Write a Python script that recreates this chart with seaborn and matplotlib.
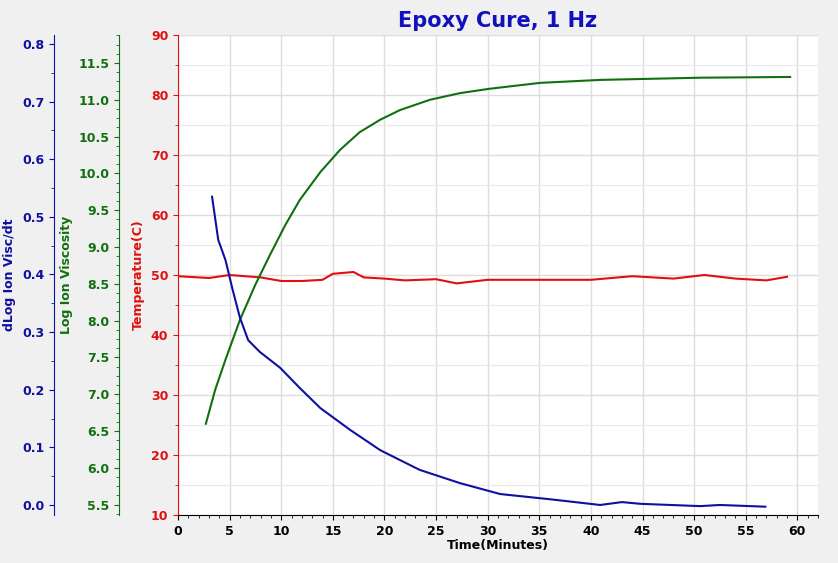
import matplotlib
matplotlib.use("Agg")
import matplotlib.pyplot as plt
import seaborn as sns
from matplotlib.ticker import MultipleLocator

green_t = [2.7,3.6,4.6,6.0,7.5,8.9,10.4,11.8,13.8,15.7,17.6,19.6,21.5,24.4,27.3,30.2,35.1,40.9,50.6,59.3]
green_v = [6.6,7.06,7.47,8.01,8.49,8.89,9.30,9.64,10.02,10.32,10.56,10.73,10.86,11.0,11.09,11.15,11.23,11.27,11.30,11.31]
blue_t = [3.3,3.9,4.6,5.3,6.0,6.8,7.9,9.9,11.8,13.8,16.7,19.6,23.4,27.3,31.2,36.0,40.9,43.0,44.8,50.6,52.5,56.9]
blue_v = [0.535,0.46,0.425,0.373,0.325,0.286,0.266,0.238,0.203,0.168,0.130,0.095,0.061,0.038,0.019,0.010,0.0,0.005,0.002,-0.002,0.0,-0.003]
red_t = [0,3,5,8,10,12,14,15,17,18,20,22,25,27,30,35,40,44,48,51,54,57,59]
red_v = [49.8,49.5,50,49.6,49,49,49.2,50.2,50.5,49.6,49.4,49.1,49.3,48.6,49.2,49.2,49.2,49.8,49.4,50,49.4,49.1,49.7]

BG = "#f0f0f0"
RED, GREEN, BLUE = "#e01010", "#107010", "#1010a0"
fig = plt.figure(figsize=(8.38, 5.63), dpi=100, facecolor=BG)
ax = fig.add_axes([178/838, 48/563, 640/838, 480/563])
ax.set_facecolor("white")
axg = ax.twinx(); axb = ax.twinx()

sns.lineplot(x=red_t, y=red_v, ax=ax, color=RED, lw=1.5)
sns.lineplot(x=green_t, y=green_v, ax=axg, color=GREEN, lw=1.5)
sns.lineplot(x=blue_t, y=blue_v, ax=axb, color=BLUE, lw=1.5)

ax.set_xlim(0, 62); ax.set_ylim(10, 90)
axg.set_ylim(5.36, 11.88); axb.set_ylim(-0.0174, 0.8156)
ax.xaxis.set_major_locator(MultipleLocator(5)); ax.xaxis.set_minor_locator(MultipleLocator(1))
ax.yaxis.set_major_locator(MultipleLocator(10)); ax.yaxis.set_minor_locator(MultipleLocator(5))
axg.yaxis.set_major_locator(MultipleLocator(0.5)); axg.yaxis.set_minor_locator(MultipleLocator(0.125))
axb.yaxis.set_major_locator(MultipleLocator(0.1)); axb.yaxis.set_minor_locator(MultipleLocator(0.05))
ax.grid(True, which="major", color="#dddddd", lw=1)
ax.grid(True, which="minor", axis="y", color="#e8e8e8", lw=0.8)

for a, col, pos in [(axg, GREEN, -59/640), (axb, BLUE, -124/640)]:
    a.yaxis.set_label_position("left"); a.yaxis.tick_left()
    for s in a.spines.values(): s.set_visible(False)
    a.spines["left"].set_visible(True)
    a.spines["left"].set_position(("axes", pos))
    a.spines["left"].set_color(col)
    a.tick_params(axis="y", which="both", colors=col, labelsize=9)

axg.set_yticks([5.5+0.5*i for i in range(13)])
axg.set_yticklabels([f"{5.5+0.5*i:.1f}" for i in range(13)], fontweight="bold")
axb.set_yticks([0.1*i for i in range(9)])
axb.set_yticklabels([f"{0.1*i:.1f}" for i in range(9)], fontweight="bold")

for s in ["top", "right"]: ax.spines[s].set_visible(False)
ax.spines["left"].set_color(RED)
ax.tick_params(axis="y", which="both", colors=RED, labelsize=9)
ax.tick_params(axis="x", labelsize=9)
for t in ax.get_yticklabels() + ax.get_xticklabels(): t.set_fontweight("bold")

ax.set_xlabel("Time(Minutes)", fontweight="bold", fontsize=9, labelpad=1)
ax.set_ylabel("Temperature(C)", color=RED, fontweight="bold", fontsize=9)
axg.set_ylabel("Log Ion Viscosity", color=GREEN, fontweight="bold", fontsize=9)
axb.set_ylabel("dLog Ion Visc/dt", color=BLUE, fontweight="bold", fontsize=9)
ax.set_title("Epoxy Cure, 1 Hz", color="#1010c0", fontweight="bold", fontsize=15, pad=6)
fig.savefig("out.png", dpi=100, facecolor=BG)
